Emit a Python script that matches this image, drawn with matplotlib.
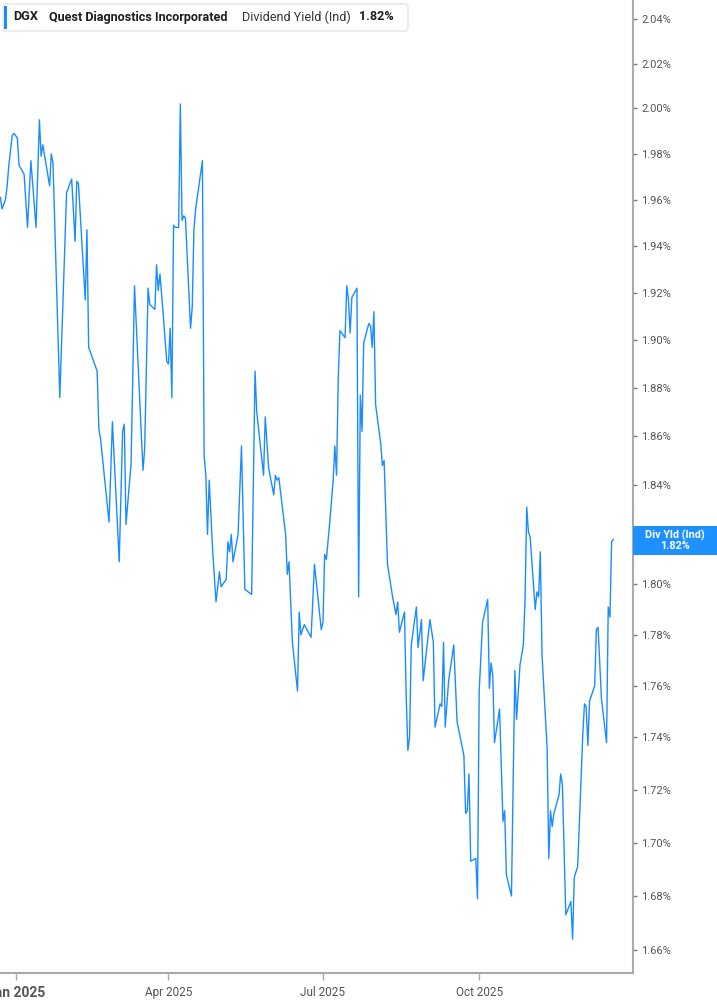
import matplotlib
matplotlib.use("Agg")
import matplotlib.pyplot as plt
import matplotlib.dates as mdates
from matplotlib.patches import FancyBboxPatch, Rectangle
from matplotlib.ticker import FixedLocator, NullLocator
import pandas as pd

plt.rcParams['font.family'] = ['Roboto', 'DejaVu Sans']

# DGX dividend yield (%)
dates = [
    "2024-12-23", "2024-12-24", "2024-12-26", "2024-12-27", "2024-12-28", "2024-12-30", "2024-12-31",
    "2025-01-02", "2025-01-03", "2025-01-06", "2025-01-08", "2025-01-10", "2025-01-13", "2025-01-15",
    "2025-01-16", "2025-01-17", "2025-01-21", "2025-01-22", "2025-01-23", "2025-01-27", "2025-01-31",
    "2025-02-03", "2025-02-05", "2025-02-06", "2025-02-07", "2025-02-11", "2025-02-12", "2025-02-13",
    "2025-02-14", "2025-02-18", "2025-02-19", "2025-02-20", "2025-02-25", "2025-02-27", "2025-03-03",
    "2025-03-05", "2025-03-06", "2025-03-07", "2025-03-10", "2025-03-12", "2025-03-17", "2025-03-18",
    "2025-03-20", "2025-03-21", "2025-03-24", "2025-03-25", "2025-03-26", "2025-03-27", "2025-03-29",
    "2025-03-31", "2025-04-01", "2025-04-02", "2025-04-03", "2025-04-04", "2025-04-05", "2025-04-07",
    "2025-04-08", "2025-04-09", "2025-04-10", "2025-04-11", "2025-04-14", "2025-04-15", "2025-04-16",
    "2025-04-17", "2025-04-21", "2025-04-22", "2025-04-23", "2025-04-24", "2025-04-25", "2025-04-27",
    "2025-04-29", "2025-05-01", "2025-05-02", "2025-05-05", "2025-05-06", "2025-05-07", "2025-05-08",
    "2025-05-09", "2025-05-12", "2025-05-14", "2025-05-16", "2025-05-20", "2025-05-22", "2025-05-23",
    "2025-05-27", "2025-05-28", "2025-05-30", "2025-06-02", "2025-06-03", "2025-06-04", "2025-06-05",
    "2025-06-09", "2025-06-10", "2025-06-11", "2025-06-13", "2025-06-16", "2025-06-17", "2025-06-18",
    "2025-06-20", "2025-06-24", "2025-06-26", "2025-06-30", "2025-07-01", "2025-07-02", "2025-07-03",
    "2025-07-05", "2025-07-07", "2025-07-08", "2025-07-09", "2025-07-10", "2025-07-11", "2025-07-14",
    "2025-07-15", "2025-07-16", "2025-07-17", "2025-07-18", "2025-07-21", "2025-07-22", "2025-07-23",
    "2025-07-24", "2025-07-25", "2025-07-28", "2025-07-29", "2025-07-30", "2025-07-31", "2025-08-01",
    "2025-08-04", "2025-08-05", "2025-08-06", "2025-08-08", "2025-08-11", "2025-08-13", "2025-08-14",
    "2025-08-15", "2025-08-18", "2025-08-19", "2025-08-20", "2025-08-21", "2025-08-22", "2025-08-25",
    "2025-08-26", "2025-08-28", "2025-08-29", "2025-09-02", "2025-09-04", "2025-09-05", "2025-09-08",
    "2025-09-09", "2025-09-10", "2025-09-11", "2025-09-13", "2025-09-16", "2025-09-18", "2025-09-22",
    "2025-09-23", "2025-09-24", "2025-09-25", "2025-09-26", "2025-09-29", "2025-09-30", "2025-10-01",
    "2025-10-03", "2025-10-06", "2025-10-07", "2025-10-08", "2025-10-09", "2025-10-10", "2025-10-13",
    "2025-10-15", "2025-10-16", "2025-10-17", "2025-10-20", "2025-10-22", "2025-10-23", "2025-10-25",
    "2025-10-27", "2025-10-28", "2025-10-29", "2025-10-30", "2025-10-31", "2025-11-03", "2025-11-04",
    "2025-11-05", "2025-11-06", "2025-11-07", "2025-11-10", "2025-11-11", "2025-11-12", "2025-11-13",
    "2025-11-14", "2025-11-17", "2025-11-18", "2025-11-19", "2025-11-21", "2025-11-24", "2025-11-25",
    "2025-11-26", "2025-11-28", "2025-12-01", "2025-12-02", "2025-12-03", "2025-12-04", "2025-12-05",
    "2025-12-08", "2025-12-09", "2025-12-10", "2025-12-12", "2025-12-15", "2025-12-16", "2025-12-17",
    "2025-12-18", "2025-12-19",
]
yld = [
    1.961, 1.956, 1.960, 1.966, 1.975, 1.988, 1.989,
    1.987, 1.975, 1.971, 1.948, 1.977, 1.948, 1.995,
    1.979, 1.984, 1.966, 1.980, 1.976, 1.876, 1.963,
    1.969, 1.942, 1.968, 1.967, 1.917, 1.947, 1.897,
    1.895, 1.887, 1.863, 1.859, 1.825, 1.866, 1.809,
    1.862, 1.865, 1.824, 1.849, 1.923, 1.846, 1.855,
    1.922, 1.915, 1.913, 1.932, 1.921, 1.928, 1.910,
    1.891, 1.890, 1.905, 1.876, 1.949, 1.948, 1.948,
    2.002, 1.951, 1.953, 1.952, 1.905, 1.914, 1.947,
    1.956, 1.977, 1.852, 1.844, 1.820, 1.842, 1.814,
    1.793, 1.805, 1.799, 1.802, 1.817, 1.813, 1.820,
    1.809, 1.820, 1.856, 1.798, 1.796, 1.887, 1.870,
    1.844, 1.868, 1.847, 1.836, 1.844, 1.842, 1.843,
    1.820, 1.804, 1.809, 1.777, 1.758, 1.789, 1.780,
    1.784, 1.779, 1.808, 1.782, 1.785, 1.812, 1.810,
    1.825, 1.842, 1.856, 1.844, 1.884, 1.904, 1.901,
    1.923, 1.917, 1.903, 1.918, 1.922, 1.795, 1.877,
    1.862, 1.899, 1.907, 1.906, 1.897, 1.912, 1.873,
    1.857, 1.848, 1.850, 1.808, 1.795, 1.788, 1.793,
    1.781, 1.789, 1.756, 1.735, 1.740, 1.776, 1.791,
    1.775, 1.786, 1.762, 1.786, 1.777, 1.744, 1.753,
    1.752, 1.777, 1.744, 1.762, 1.776, 1.746, 1.733,
    1.711, 1.712, 1.726, 1.693, 1.694, 1.679, 1.758,
    1.785, 1.794, 1.759, 1.769, 1.764, 1.738, 1.751,
    1.708, 1.712, 1.688, 1.680, 1.766, 1.747, 1.768,
    1.776, 1.794, 1.831, 1.821, 1.819, 1.790, 1.797,
    1.795, 1.813, 1.772, 1.736, 1.694, 1.712, 1.706,
    1.711, 1.718, 1.726, 1.722, 1.673, 1.678, 1.664,
    1.687, 1.691, 1.741, 1.753, 1.752, 1.737, 1.754,
    1.760, 1.782, 1.783, 1.755, 1.738, 1.791, 1.787,
    1.817, 1.818,
]

yticks = [1.66, 1.68, 1.70, 1.72, 1.74, 1.76, 1.78, 1.80, 1.82, 1.84,
          1.86, 1.88, 1.90, 1.92, 1.94, 1.96, 1.98, 2.00, 2.02, 2.04]
xtick_dates = ["2025-01-01", "2025-04-01", "2025-07-01", "2025-10-01"]
xtick_labels = ["Jan 2025", "Apr 2025", "Jul 2025", "Oct 2025"]
ticker = "DGX"
company = "Quest Diagnostics Incorporated"
metric = "Dividend Yield (Ind)"
last_label = "1.82%"

W, H = 717, 1005
fig = plt.figure(figsize=(W / 100, H / 100), dpi=100)
ax = fig.add_axes([0, 32 / H, 633 / W, 1 - 32 / H])

line_color = '#1a8cff'
x = pd.to_datetime(dates)
ax.plot(x, yld, color=line_color, lw=1.0)

ax.set_yscale('log')
ax.set_ylim(1.6516, 2.0486)
ax.set_xlim(mdates.date2num(pd.Timestamp("2024-12-22 19:00")),
            mdates.date2num(pd.Timestamp("2025-12-30 14:00")))

# the 1.82% tick sits under the last-value tag, so its label stays empty
ax.yaxis.set_major_locator(FixedLocator(yticks))
ax.yaxis.set_minor_locator(NullLocator())
ax.set_yticklabels(["" if abs(v - 1.82) < 1e-9 else f"{v:.2f}%" for v in yticks])
ax.yaxis.tick_right()
ax.tick_params(axis='y', which='major', length=3, width=1, color='#777777',
               pad=3, labelsize=8, labelcolor='#555555')

ax.set_xticks(pd.to_datetime(xtick_dates))
ax.set_xticklabels(xtick_labels)
ax.tick_params(axis='x', length=5, width=1, color='#aaaaaa', pad=4,
               labelsize=8.5, labelcolor='#555555')
ax.get_xticklabels()[0].set_fontweight('bold')
ax.get_xticklabels()[0].set_fontsize(10)

for side in ['left', 'top']:
    ax.spines[side].set_visible(False)
for side in ['right', 'bottom']:
    ax.spines[side].set_color('#aaaaaa')
    ax.spines[side].set_linewidth(1.5)

# header box
def fx(px):
    return px / W

def fy(py):
    return 1 - py / H

fig.patches.append(FancyBboxPatch((fx(3), fy(31)), fx(405), 27 / H,
                                  boxstyle="round,pad=0,rounding_size=0.004",
                                  transform=fig.transFigure, facecolor='white',
                                  edgecolor='#e4e4e4', lw=1))
fig.patches.append(Rectangle((fx(4), fy(29)), fx(3), 23 / H,
                             transform=fig.transFigure, facecolor=line_color,
                             edgecolor='none'))
ty = fy(17)
fig.text(fx(13), ty, ticker, fontsize=9.1, fontweight='bold', color='#1f1f1f', va='center')
fig.text(fx(49), ty, company, fontsize=9.1, fontweight='bold', color='#1f1f1f', va='center')
fig.text(fx(242), ty, metric, fontsize=9.1, color='#333333', va='center')
fig.text(fx(359), ty, last_label, fontsize=9.1, fontweight='bold', color='#1f1f1f', va='center')

# last value tag on the right axis
fig.patches.append(Rectangle((fx(633), fy(555)), fx(84), 29 / H,
                             transform=fig.transFigure, facecolor='#1e90ff',
                             edgecolor='none'))
fig.text(fx(675), fy(540.5), "Div Yld (Ind)\n" + last_label, fontsize=7.8,
         fontweight='bold', color='white', ha='center', va='center',
         linespacing=1.0)

fig.savefig("out.png", dpi=100)
